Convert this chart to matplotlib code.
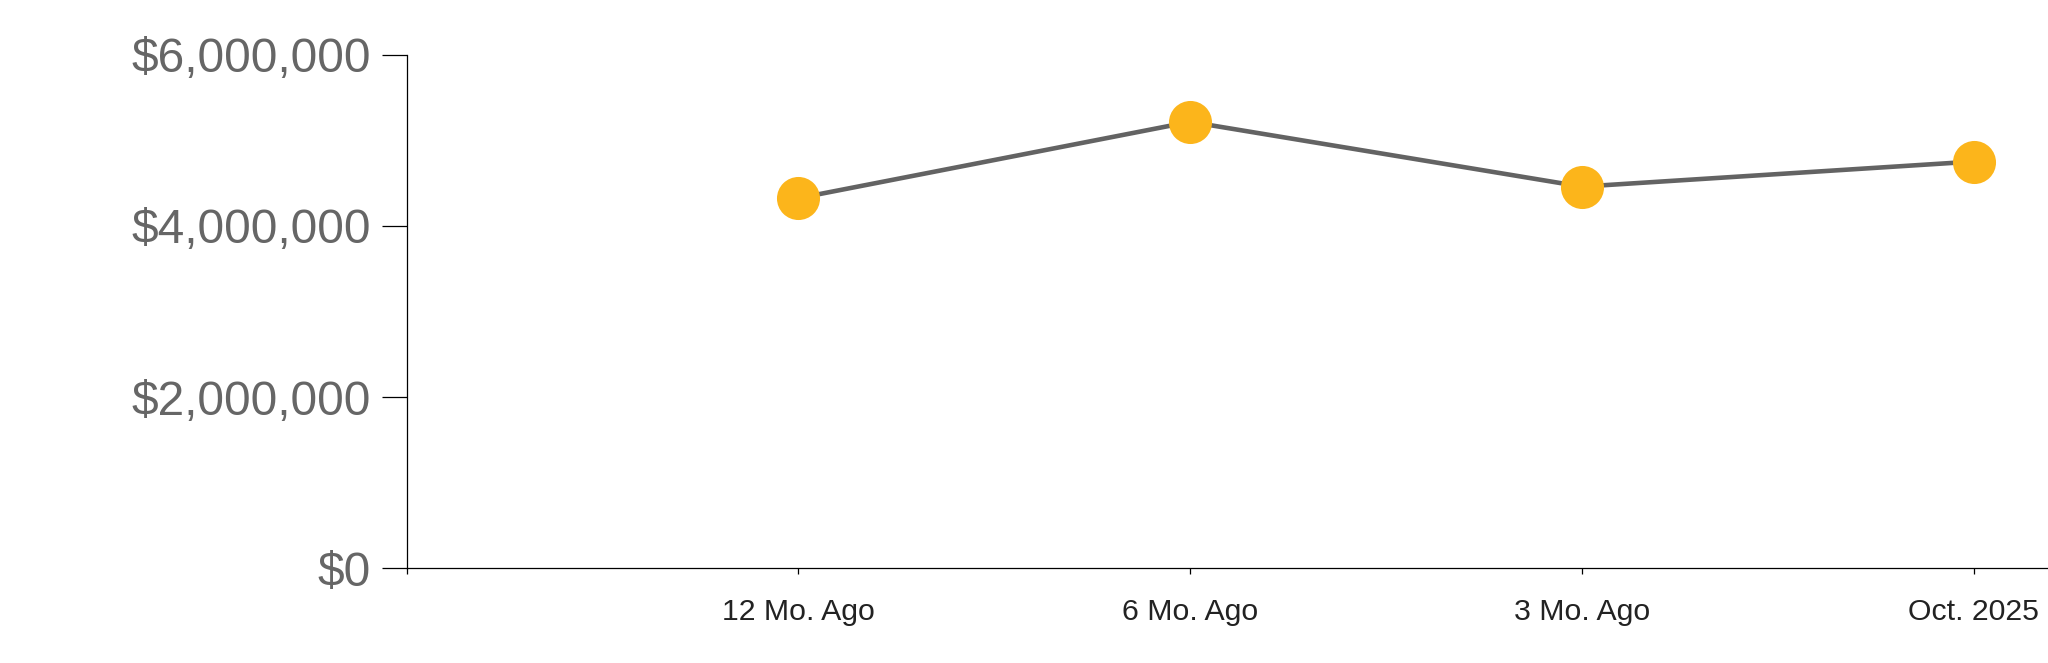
import matplotlib.pyplot as plt
from matplotlib.ticker import FuncFormatter

plt.rcParams['font.family'] = ['Liberation Sans', 'DejaVu Sans']

# data
periods = ['12 Mo. Ago', '6 Mo. Ago', '3 Mo. Ago', 'Oct. 2025']
values = [4325000, 5217000, 4460000, 4753000]
y_ticks = [0, 2000000, 4000000, 6000000]

fig = plt.figure(figsize=(20.48, 6.63), dpi=100)
ax = fig.add_axes([0.1986, 0.1428, 0.8014, 0.7745])

xs = list(range(1, len(periods) + 1))
ax.plot(xs, values, color='#636363', lw=3.3, zorder=2)
ax.plot(xs, values, 'o', ms=31, color='#FCB51B', mec='none', zorder=3)

ax.set_xlim(0, 4.19)
ax.set_ylim(0, 6000000)
ax.set_xticks([0] + xs)
ax.set_xticklabels([''] + periods)
ax.set_yticks(y_ticks)
ax.yaxis.set_major_formatter(FuncFormatter(lambda v, p: '${:,.0f}'.format(v)))

for s in ['top', 'right']:
    ax.spines[s].set_visible(False)
for s in ['left', 'bottom']:
    ax.spines[s].set_linewidth(0.9)
    ax.spines[s].set_color('black')

ax.tick_params(axis='y', length=18, width=0.9, pad=8, labelsize=34.5, labelcolor='#666666')
ax.tick_params(axis='x', length=4.5, width=0.9, pad=17, labelsize=21.8, labelcolor='#222222')

fig.savefig('out.png', dpi=100)
